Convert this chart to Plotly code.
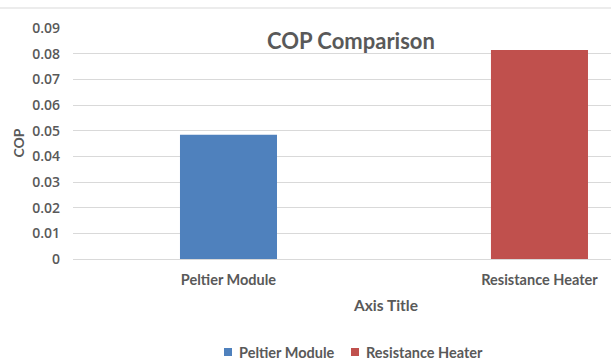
import plotly.graph_objects as go

# COP values for the two heating methods
categories = ["Peltier Module", "Resistance Heater"]
peltier_cop = [0.0484]
heater_cop = [0.0814]
series_colors = ["#4f81bd", "#c0504d"]
y_ticks = [0, 0.01, 0.02, 0.03, 0.04, 0.05, 0.06, 0.07, 0.08, 0.09]
y_tick_text = ["0", "0.01", "0.02", "0.03", "0.04", "0.05", "0.06", "0.07", "0.08", "0.09"]

W, H = 611, 364
L, T, B = 73, 28, 105
plot_w = W - L
plot_h = H - T - B

grey = "#595959"
grid = "#d9d9d9"
font_main = "Lato"


def px_x(px):
    return (px - L) / plot_w


def px_y(py):
    return 1 - (py - T) / plot_h


fig = go.Figure()
fig.add_trace(go.Bar(name=categories[0], x=[categories[0]], y=peltier_cop,
                     marker=dict(color=series_colors[0], line=dict(width=0)), width=0.312))
fig.add_trace(go.Bar(name=categories[1], x=[categories[1]], y=heater_cop,
                     marker=dict(color=series_colors[1], line=dict(width=0)), width=0.312))

# legend drawn as colour swatches plus labels along the bottom
legend_items = [(224, 237, categories[0], series_colors[0]),
                (351, 364, categories[1], series_colors[1])]
shapes = [dict(type="line", xref="paper", yref="paper",
               x0=px_x(0), x1=1, y0=px_y(8), y1=px_y(8),
               line=dict(color=grid, width=1))]
annotations = [
    dict(text="COP Comparison", xref="paper", yref="paper",
         x=px_x(351), y=px_y(40), xanchor="center", yanchor="middle", showarrow=False,
         font=dict(size=22, color=grey, family=font_main, weight="bold")),
    dict(text="Axis Title", xref="paper", yref="paper",
         x=px_x(385), y=px_y(305), xanchor="center", yanchor="middle", showarrow=False,
         font=dict(size=15.5, color=grey, family=font_main, weight="bold")),
    dict(text="COP", xref="paper", yref="paper",
         x=px_x(18), y=px_y(143.5), xanchor="center", yanchor="middle", showarrow=False,
         textangle=-90,
         font=dict(size=14, color=grey, family=font_main, weight="bold")),
]
for sx, tx, name, color in legend_items:
    shapes.append(dict(type="rect", xref="paper", yref="paper",
                       x0=px_x(sx), x1=px_x(sx + 8), y0=px_y(348), y1=px_y(356),
                       fillcolor=color, line=dict(width=0)))
    annotations.append(dict(text=name, xref="paper", yref="paper",
                            x=px_x(tx), y=px_y(352), xanchor="left", yanchor="middle",
                            showarrow=False,
                            font=dict(size=14.5, color=grey, family=font_main, weight="bold")))

fig.update_layout(
    width=W, height=H,
    margin=dict(l=L, r=0, t=T, b=B),
    paper_bgcolor="white", plot_bgcolor="white",
    barmode="overlay",
    font=dict(family=font_main, color=grey),
    showlegend=False,
    xaxis=dict(categoryorder="array", categoryarray=categories,
               range=[-0.5, 1.23], showgrid=False, zeroline=False,
               showline=True, linecolor=grid, linewidth=1,
               ticks="", ticklabelstandoff=8,
               tickfont=dict(size=14.5, color=grey, family=font_main, weight="bold")),
    yaxis=dict(range=[0, 0.09], tickvals=y_ticks, ticktext=y_tick_text,
               showgrid=True, gridcolor=grid, gridwidth=1, zeroline=False,
               showline=False, ticks="", ticklabelstandoff=12,
               tickfont=dict(size=14, color=grey, family="Open Sans", weight=600)),
    annotations=annotations,
    shapes=shapes,
)

fig.write_html("out.html")
